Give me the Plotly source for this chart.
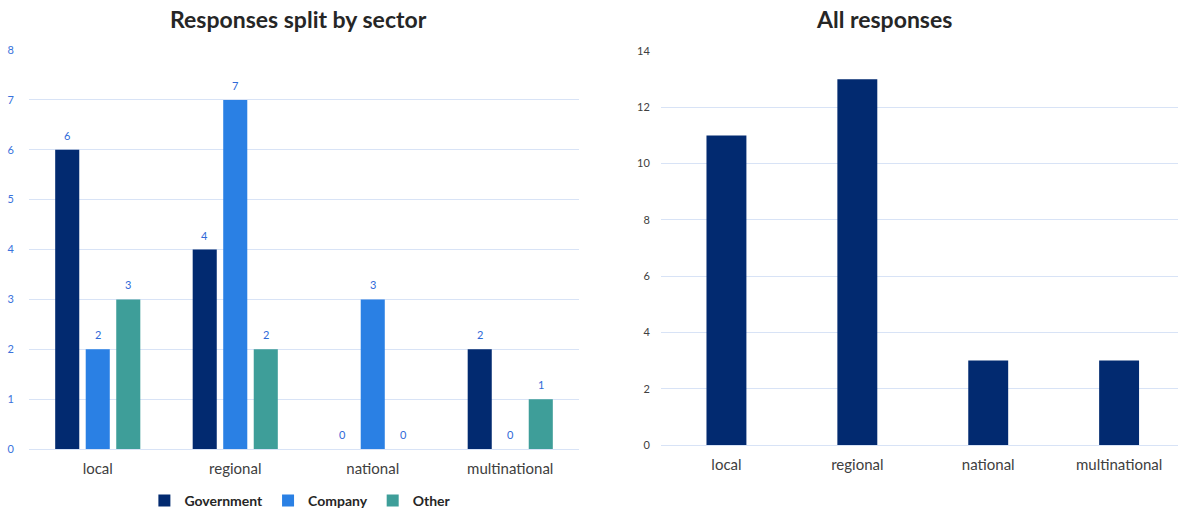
import plotly.graph_objects as go

# Survey responses by organisation scope
categories = ["local", "regional", "national", "multinational"]
government = [6, 4, 0, 2]
company = [2, 7, 3, 0]
other = [3, 2, 0, 1]
all_responses = [11, 13, 3, 3]

left_ticks = [0, 1, 2, 3, 4, 5, 6, 7, 8]
right_ticks = [0, 2, 4, 6, 8, 10, 12, 14]

series = [
    ("Government", government, "#022A70"),
    ("Company", company, "#2A80E4"),
    ("Other", other, "#3E9E99"),
]

FONT = "Lato, 'Open Sans', sans-serif"
GRID = "#D8E3F6"
BAR_W = 0.175
STEP = 0.222
W, H = 1178, 511


def px_x(a, b):
    return [a / W, b / W]


def px_y(top, bottom):
    return [1 - bottom / H, 1 - top / H]


fig = go.Figure()

# Grouped bars on the left panel, placed with explicit offsets
for i, (name, vals, color) in enumerate(series):
    centre = (i - 1) * STEP
    fig.add_trace(go.Bar(
        x=categories, y=vals, name=name,
        marker=dict(color=color, line=dict(width=0)),
        width=BAR_W, offset=centre - BAR_W / 2,
        xaxis="x", yaxis="y",
    ))
    for j, v in enumerate(vals):
        fig.add_annotation(
            x=j + centre, y=v, xref="x", yref="y",
            text=str(v), showarrow=False, yanchor="bottom", yshift=6,
            font=dict(family=FONT, size=11, color="#2F6AD8"),
        )

# Totals on the right panel
fig.add_trace(go.Bar(
    x=categories, y=all_responses, name="All responses",
    marker=dict(color="#022A70", line=dict(width=0)),
    width=0.305, offset=-0.1525,
    xaxis="x2", yaxis="y2", showlegend=False,
))

# Panel titles
for cx, title in [(298, "Responses split by sector"), (884, "All responses")]:
    fig.add_annotation(x=cx / W, y=1 - 19 / H, xref="paper", yref="paper",
                       text=f"<b>{title}</b>", showarrow=False,
                       xanchor="center", yanchor="middle",
                       font=dict(family=FONT, size=23, color="#262626"))

fig.update_layout(
    width=W, height=H,
    margin=dict(l=0, r=0, t=0, b=0, autoexpand=False),
    paper_bgcolor="white", plot_bgcolor="white",
    barmode="overlay",
    font=dict(family=FONT, color="#404040"),
    xaxis=dict(domain=px_x(29, 579), type="category", range=[-0.5, 3.5],
               showgrid=False, showline=False, zeroline=False,
               ticks="outside", ticklen=6, tickcolor="rgba(0,0,0,0)",
               tickfont=dict(family=FONT, size=15, color="#404040")),
    yaxis=dict(domain=px_y(50, 449), range=[0, 8], tickvals=left_ticks,
               showgrid=True, gridcolor=GRID, gridwidth=1,
               zeroline=True, zerolinecolor=GRID, zerolinewidth=1,
               ticks="outside", ticklen=12, tickcolor="rgba(0,0,0,0)",
               tickfont=dict(family=FONT, size=11, color="#3A72DC")),
    xaxis2=dict(domain=px_x(661, 1178), type="category", range=[-0.5, 3.45],
                anchor="y2", showgrid=False, showline=False, zeroline=False,
                ticks="outside", ticklen=6, tickcolor="rgba(0,0,0,0)",
                tickfont=dict(family=FONT, size=15, color="#404040")),
    yaxis2=dict(domain=px_y(51, 445), range=[0, 14], tickvals=right_ticks,
                anchor="x2", showgrid=True, gridcolor=GRID, gridwidth=1,
                zeroline=True, zerolinecolor=GRID, zerolinewidth=1,
                ticks="outside", ticklen=8, tickcolor="rgba(0,0,0,0)",
                tickfont=dict(family=FONT, size=11, color="#404040")),
    legend=dict(orientation="h", x=0.255, xanchor="center", y=10 / H, yanchor="middle",
                font=dict(family=FONT, size=14, color="#262626", weight="bold"),
                itemwidth=30, bgcolor="rgba(0,0,0,0)"),
)

fig.write_html("out.html")
